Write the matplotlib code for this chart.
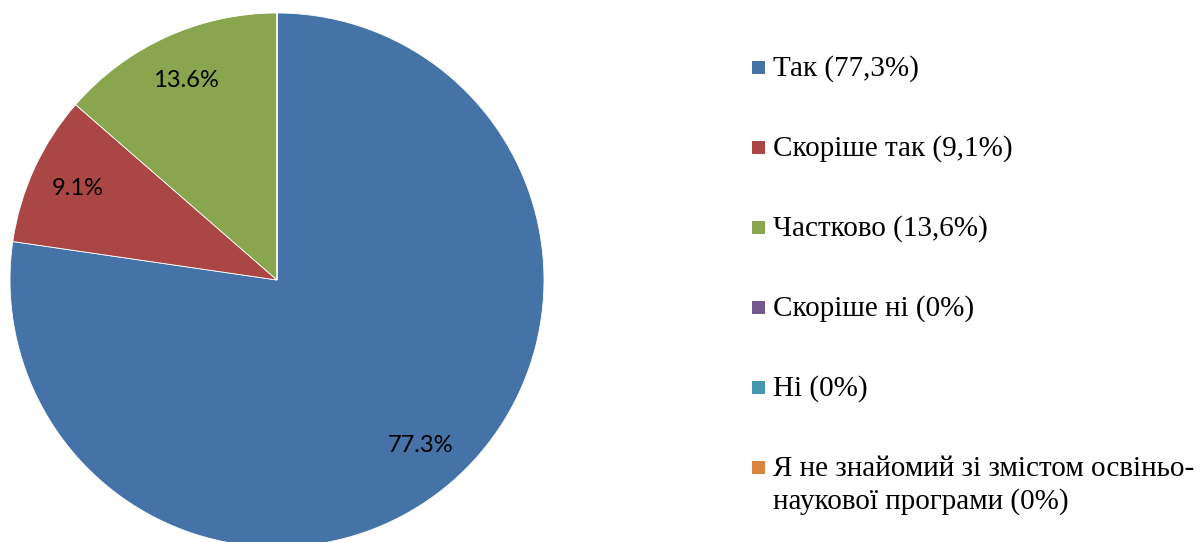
import matplotlib
matplotlib.use("Agg")
import matplotlib.pyplot as plt
from matplotlib.patches import Rectangle

labels = ["Так (77,3%)", "Скоріше так (9,1%)", "Частково (13,6%)", "Скоріше ні (0%)",
          "Ні (0%)", "Я не знайомий зі змістом освіньо-\nнаукової програми (0%)"]
values = [77.3, 9.1, 13.6, 0, 0, 0]
colors = ["#4572A7", "#AA4643", "#89A54E", "#71588F", "#4198AF", "#DB843D"]

W, H = 1201, 542
fig = plt.figure(figsize=(W / 100, H / 100), dpi=100)
cx, cy, r = 277, 280, 267
ax = fig.add_axes([(cx - r) / W, (H - cy - r) / H, 2 * r / W, 2 * r / H])

def fmt(p):
    return f"{p:.1f}%" if p > 0.05 else ""

res = ax.pie(values, colors=colors, startangle=90, counterclock=False,
             wedgeprops=dict(linewidth=0.6, edgecolor="white"),
             autopct=fmt, pctdistance=0.82,
             textprops=dict(fontsize=17, family="Lato", color="black"))
ax.set_xlim(-1, 1)
ax.set_ylim(-1, 1)
ax.set_aspect("auto")
ax.axis("off")

# legend, laid out in pixel space
x_box, box, x_txt = 752, 13, 773
y0, dy, line_h = 67, 80, 33
for i, (lab, col) in enumerate(zip(labels, colors)):
    yc = y0 + dy * i
    fig.patches.append(Rectangle((x_box / W, (H - yc - box / 2) / H), box / W, box / H,
                                 transform=fig.transFigure, facecolor=col, edgecolor="none"))
    for j, line in enumerate(lab.split("\n")):
        fig.text(x_txt / W, (H - yc - 9 - j * line_h) / H, line, ha="left", va="baseline",
                 family="Liberation Serif", fontsize=21)
fig.savefig("out.png", dpi=100)
